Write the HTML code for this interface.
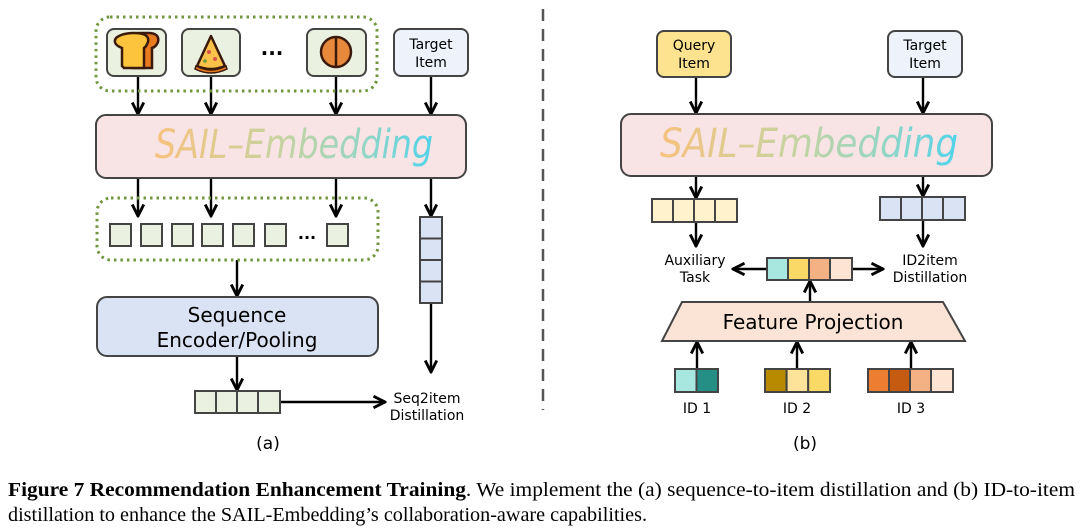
<!DOCTYPE html>
<html><head><meta charset="utf-8"><style>
html,body{margin:0;padding:0;background:#fff;}
svg{display:block;}
.sans{font-family:"DejaVu Sans","Liberation Sans",sans-serif;}
.serif{font-family:"Liberation Serif","Times New Roman",serif;}
</style></head><body>
<svg width="1080" height="528" viewBox="0 0 1080 528" xmlns="http://www.w3.org/2000/svg">
<defs>
<marker id="ah" viewBox="0 0 10 10" refX="9" refY="5" markerWidth="6" markerHeight="6" orient="auto-start-reverse">
<path d="M1,1 L9,5 L1,9" fill="none" stroke="#000" stroke-width="2"/>
</marker>
<linearGradient id="sg" x1="0" x2="1" y1="0" y2="0">
<stop offset="0" stop-color="#f7c27e"/>
<stop offset="0.45" stop-color="#c6d3a0"/>
<stop offset="0.75" stop-color="#94d6c4"/>
<stop offset="1" stop-color="#4fd3ea"/>
</linearGradient>
</defs>
<g stroke="#000" stroke-width="2.4" fill="none" marker-end="url(#ah)">
<line x1="138" y1="76" x2="138" y2="114"/>
<line x1="211" y1="76" x2="211" y2="114"/>
<line x1="336" y1="76" x2="336" y2="114"/>
<line x1="431" y1="76" x2="431" y2="114"/>
<line x1="138" y1="178" x2="138" y2="216"/>
<line x1="211" y1="178" x2="211" y2="216"/>
<line x1="336" y1="178" x2="336" y2="216"/>
<line x1="431" y1="178" x2="431" y2="216"/>
<line x1="237" y1="260" x2="237" y2="296"/>
<line x1="237" y1="356" x2="237" y2="390"/>
<line x1="431" y1="303" x2="431" y2="372"/>
<line x1="280" y1="402" x2="385" y2="402"/>
<line x1="696" y1="77" x2="696" y2="113"/>
<line x1="923" y1="77" x2="923" y2="113"/>
<line x1="696" y1="176" x2="696" y2="198"/>
<line x1="923" y1="176" x2="923" y2="196"/>
<line x1="696" y1="222" x2="696" y2="246"/>
<line x1="923" y1="220" x2="923" y2="246"/>
<line x1="767" y1="269" x2="733" y2="269"/>
<line x1="852" y1="269" x2="883" y2="269"/>
<line x1="810" y1="302" x2="810" y2="281"/>
<line x1="697" y1="369" x2="697" y2="342"/>
<line x1="797" y1="369" x2="797" y2="342"/>
<line x1="911" y1="369" x2="911" y2="342"/>
</g>
<rect x="96" y="17" width="281" height="74" rx="14" fill="none" stroke="#70963e" stroke-width="3" stroke-dasharray="2.5 4"/>
<rect x="97" y="198" width="281" height="62" rx="14" fill="none" stroke="#70963e" stroke-width="3" stroke-dasharray="2.5 4"/>
<g stroke="#444" stroke-width="2" fill="#ebf1e0">
<rect x="107" y="29" width="59" height="47" rx="7"/>
<rect x="182" y="29" width="58" height="47" rx="7"/>
<rect x="307" y="29" width="59" height="47" rx="7"/>
</g>
<path d="M130,66 L130,48 Q120,44 124,38 Q130,33 142,33 L148,33 Q160,33 158,42 Q156,47 152,48 L152,68 L132,68 Z" fill="#e87a20" stroke="#3a1a0a" stroke-width="2.5"/>
<path d="M122,66 L122,48 Q112,44 116,38 Q122,33 134,33 Q150,33 148,42 Q146,47 144,48 L144,68 L124,68 Z" fill="#fcc33c" stroke="#3a1a0a" stroke-width="2.5"/>
<path d="M211,36 L197,66 Q211,72 225,66 Z" fill="#fbc24a" stroke="#3a1a0a" stroke-width="2.5" stroke-linejoin="round"/>
<path d="M196,66 Q211,74 226,66 L227,69 Q211,77 195,69 Z" fill="#e87a20" stroke="#3a1a0a" stroke-width="1.5"/>
<circle cx="209" cy="52" r="2" fill="#d9534f"/><circle cx="215" cy="59" r="2" fill="#d9534f"/><circle cx="205" cy="61" r="1.8" fill="#6a9a3a"/>
<circle cx="336" cy="52" r="15" fill="#e8883a" stroke="#3a1a0a" stroke-width="2.5"/>
<line x1="336" y1="37" x2="336" y2="67" stroke="#3a1a0a" stroke-width="2.5"/>
<text x="272" y="60" class="sans" font-size="20" text-anchor="middle" font-weight="bold">···</text>
<rect x="394" y="29" width="74" height="47" rx="7" fill="#edf2fb" stroke="#444" stroke-width="2"/>
<text class="sans" font-size="14" text-anchor="middle"><tspan x="431" y="49">Target</tspan><tspan x="431" y="67">Item</tspan></text>
<rect x="657" y="31" width="74" height="46" rx="7" fill="#fde38f" stroke="#444" stroke-width="2"/>
<text class="sans" font-size="14" text-anchor="middle"><tspan x="694" y="50">Query</tspan><tspan x="694" y="68">Item</tspan></text>
<rect x="888" y="31" width="74" height="46" rx="7" fill="#edf2fb" stroke="#444" stroke-width="2"/>
<text class="sans" font-size="14" text-anchor="middle"><tspan x="925" y="50">Target</tspan><tspan x="925" y="68">Item</tspan></text>
<rect x="96" y="115" width="370" height="63" rx="10" fill="#f8e3e5" stroke="#444" stroke-width="2"/>
<text x="294" y="158" class="sans" font-size="40" font-style="italic" text-anchor="middle" fill="url(#sg)" textLength="278" lengthAdjust="spacingAndGlyphs">SAIL–Embedding</text>
<rect x="621" y="114" width="371" height="62" rx="10" fill="#f8e3e5" stroke="#444" stroke-width="2"/>
<text x="809" y="157" class="sans" font-size="40" font-style="italic" text-anchor="middle" fill="url(#sg)" textLength="298" lengthAdjust="spacingAndGlyphs">SAIL–Embedding</text>
<g fill="#ebf1e0" stroke="#444" stroke-width="2">
<rect x="110" y="224" width="21" height="22"/><rect x="141" y="224" width="21" height="22"/>
<rect x="172" y="224" width="21" height="22"/><rect x="202" y="224" width="21" height="22"/>
<rect x="233" y="224" width="21" height="22"/><rect x="265" y="224" width="21" height="22"/>
<rect x="327" y="224" width="21" height="22"/>
</g>
<text x="307" y="243" class="sans" font-size="16" text-anchor="middle" font-weight="bold">···</text>
<g fill="#dae3f3" stroke="#444" stroke-width="2">
<rect x="420" y="217" width="22" height="21.5"/><rect x="420" y="238.5" width="22" height="21.5"/>
<rect x="420" y="260" width="22" height="21.5"/><rect x="420" y="281.5" width="22" height="21.5"/>
</g>
<rect x="97" y="297" width="281" height="59" rx="10" fill="#dae3f3" stroke="#444" stroke-width="2"/>
<text class="sans" font-size="20" text-anchor="middle"><tspan x="237" y="322">Sequence</tspan><tspan x="237" y="347">Encoder/Pooling</tspan></text>
<g fill="#ebf1e0" stroke="#444" stroke-width="2">
<rect x="195" y="391" width="21" height="22"/><rect x="216" y="391" width="21" height="22"/>
<rect x="237" y="391" width="21" height="22"/><rect x="258" y="391" width="22" height="22"/>
</g>
<text class="sans" font-size="14" text-anchor="middle"><tspan x="427" y="403">Seq2item</tspan><tspan x="427" y="420">Distillation</tspan></text>
<text x="268" y="449" class="sans" font-size="17" text-anchor="middle">(a)</text>
<line x1="543" y1="9" x2="543" y2="410" stroke="#555" stroke-width="2.5" stroke-dasharray="12 8"/>
<g stroke="#444" stroke-width="2">
<rect x="652" y="199" width="21" height="23" fill="#fff2cc"/><rect x="673" y="199" width="21" height="23" fill="#fff2cc"/>
<rect x="694" y="199" width="21" height="23" fill="#fff2cc"/><rect x="715" y="199" width="22" height="23" fill="#fff2cc"/>
<rect x="880" y="197" width="21" height="23" fill="#dae3f3"/><rect x="901" y="197" width="21" height="23" fill="#dae3f3"/>
<rect x="922" y="197" width="21" height="23" fill="#dae3f3"/><rect x="943" y="197" width="22" height="23" fill="#dae3f3"/>
<rect x="767" y="258" width="21" height="22" fill="#a8e6e0"/><rect x="788" y="258" width="21" height="22" fill="#fbd966"/>
<rect x="809" y="258" width="21" height="22" fill="#f4b183"/><rect x="830" y="258" width="22" height="22" fill="#fde4d3"/>
<rect x="675" y="369" width="21.5" height="23" fill="#a8e6e0"/><rect x="696.5" y="369" width="21.5" height="23" fill="#258f86"/>
<rect x="765" y="369" width="21.6" height="23" fill="#b78a00"/><rect x="786.6" y="369" width="21.6" height="23" fill="#fde39a"/><rect x="808.2" y="369" width="21.8" height="23" fill="#fbd966"/>
<rect x="868" y="369" width="21" height="23" fill="#ed7d31"/><rect x="889" y="369" width="21" height="23" fill="#c55a11"/>
<rect x="910" y="369" width="21" height="23" fill="#f4b183"/><rect x="931" y="369" width="22" height="23" fill="#fde4d3"/>
</g>
<text class="sans" font-size="14" text-anchor="middle"><tspan x="695" y="265">Auxiliary</tspan><tspan x="695" y="282">Task</tspan></text>
<text class="sans" font-size="14" text-anchor="middle"><tspan x="930" y="265">ID2item</tspan><tspan x="930" y="282">Distillation</tspan></text>
<polygon points="682,302 943,302 965,341 662,341" fill="#fbe4d5" stroke="#444" stroke-width="2"/>
<text x="813" y="329" class="sans" font-size="20" text-anchor="middle">Feature Projection</text>
<text class="sans" font-size="14" text-anchor="middle"><tspan x="697" y="413">ID 1</tspan><tspan x="797" y="413">ID 2</tspan><tspan x="911" y="413">ID 3</tspan></text>
<text x="805" y="449" class="sans" font-size="17" text-anchor="middle">(b)</text>
<text x="8" y="496" class="serif" font-size="19.5" textLength="1067" lengthAdjust="spacingAndGlyphs"><tspan font-weight="bold">Figure 7  Recommendation Enhancement Training</tspan>.  We implement the (a) sequence-to-item distillation and (b) ID-to-item</text>
<text x="8" y="521" class="serif" font-size="19.5" textLength="639" lengthAdjust="spacingAndGlyphs">distillation to enhance the SAIL-Embedding’s collaboration-aware capabilities.</text>
</svg>
</body></html>
